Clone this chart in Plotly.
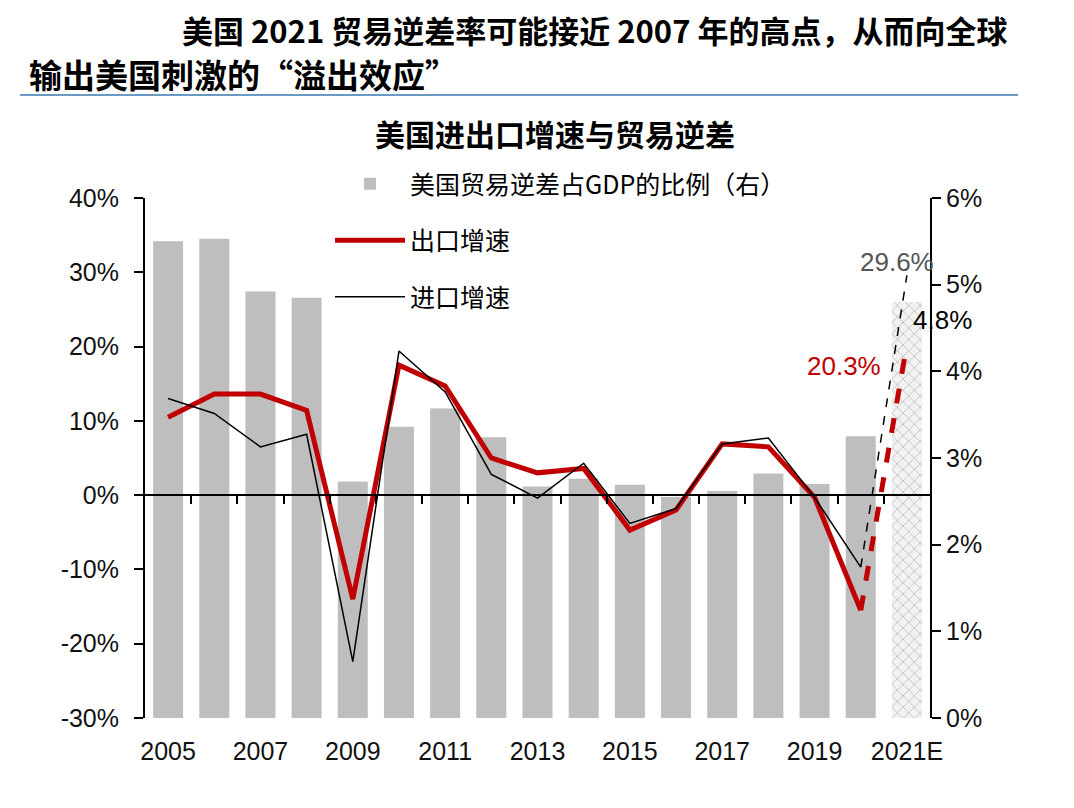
import plotly.graph_objects as go

# ---------------- data ----------------
years = list(range(2005, 2022))
year_labels = ["2005", "2007", "2009", "2011", "2013", "2015", "2017", "2019", "2021E"]
year_label_pos = [2005, 2007, 2009, 2011, 2013, 2015, 2017, 2019, 2021]
deficit_gdp = [5.50, 5.53, 4.92, 4.85, 2.73, 3.36, 3.57, 3.24, 2.67, 2.76,
               2.69, 2.55, 2.62, 2.82, 2.70, 3.25, 4.8]
export_growth = [10.5, 13.6, 13.6, 11.4, -14.0, 17.5, 14.7, 5.0, 3.0, 3.6,
                 -4.7, -2.0, 6.9, 6.5, -0.3, -15.5, 20.3]
import_growth = [13.0, 11.0, 6.5, 8.2, -22.4, 19.4, 13.9, 2.8, -0.4, 4.3,
                 -3.8, -1.8, 6.9, 7.7, -0.3, -9.7, 29.6]
left_ticks = [40, 30, 20, 10, 0, -10, -20, -30]
right_ticks = [0, 1, 2, 3, 4, 5, 6]

# ---------------- layout geometry helpers ----------------
OFF = 8  # browser body margin
W, H = 1074 - 2 * OFF, 808 - 2 * OFF
# plot area in reference-pixel coordinates
RL, RR, RT, RB = 145, 930, 198, 718
L, R, T, B = RL - OFF, RR - OFF, RT - OFF, RB - OFF


def px(x):
    return (x - RL) / (RR - RL)


def py(y):
    return (RB - y) / (RB - RT)


RED = "#C00000"
GRAY = "#BEBEBE"
FONT = "Liberation Sans, Arial, sans-serif"
CJK = "Noto Sans CJK SC, sans-serif"

fig = go.Figure()

# bars (right axis, main y)
fig.add_trace(go.Bar(
    x=years[:-1], y=deficit_gdp[:-1], yaxis="y", xaxis="x",
    marker=dict(color=GRAY, line=dict(width=0)), width=0.65,
    name="美国贸易逆差占GDP的比例（右）", legendgroup="a",
))
fig.add_trace(go.Bar(
    x=years[-1:], y=deficit_gdp[-1:], yaxis="y", xaxis="x",
    marker=dict(color="#EEEEEE", line=dict(width=0),
                pattern=dict(shape="x", fgcolor="#8C8C8C", bgcolor="#F2F2F2",
                             size=8, solidity=0.2)),
    width=0.65, showlegend=False, hoverinfo="skip",
))

# lines (left axis, y2)
fig.add_trace(go.Scatter(
    x=years[:-1], y=export_growth[:-1], yaxis="y2", xaxis="x",
    mode="lines", line=dict(color=RED, width=5),
    name="出口增速", legendgroup="b",
))
fig.add_trace(go.Scatter(
    x=years[:-1], y=import_growth[:-1], yaxis="y2", xaxis="x",
    mode="lines", line=dict(color="black", width=1.5),
    name="进口增速", legendgroup="c",
))
fig.add_trace(go.Scatter(
    x=years[-2:], y=import_growth[-2:], yaxis="y2", xaxis="x",
    mode="lines", line=dict(color="black", width=1.5, dash="dash"),
    showlegend=False,
))
fig.add_trace(go.Scatter(
    x=years[-2:], y=export_growth[-2:], yaxis="y2", xaxis="x",
    mode="lines", line=dict(color=RED, width=5, dash="dash"),
    showlegend=False,
))
# invisible helper trace so the zero-line axis (x2) is rendered
fig.add_trace(go.Scatter(
    x=[years[0]], y=[0], xaxis="x2", yaxis="y2", mode="markers",
    marker=dict(opacity=0), showlegend=False, hoverinfo="skip",
))

annotations = [
    dict(text="<b>美国 2021 贸易逆差率可能接近 2007 年的高点，从而向全球</b>",
         x=px(181), y=py(29), xref="paper", yref="paper", xanchor="left", yanchor="middle",
         borderpad=0, showarrow=False, font=dict(family=CJK, size=31, color="black")),
    dict(text="<b>输出美国刺激的“溢出效应”</b>",
         x=px(28), y=py(74), xref="paper", yref="paper", xanchor="left", yanchor="middle",
         borderpad=0, showarrow=False, font=dict(family=CJK, size=33, color="black")),
    dict(text="<b>美国进出口增速与贸易逆差</b>",
         x=px(555), y=py(133), xref="paper", yref="paper", xanchor="center", yanchor="middle",
         showarrow=False, font=dict(family=CJK, size=30, color="black")),
    dict(text="29.6%", x=2021, y=import_growth[-1], xref="x", yref="y2",
         xanchor="center", yanchor="bottom", yshift=-4, xshift=-10,
         showarrow=False, font=dict(family=FONT, size=26, color="#555555")),
    dict(text="4.8%", x=2021, y=deficit_gdp[-1], xref="x", yref="y",
         xanchor="left", yanchor="middle", xshift=4, yshift=-18,
         showarrow=False, font=dict(family=FONT, size=26, color="black")),
    dict(text="20.3%", x=2021, y=export_growth[-1], xref="x", yref="y2",
         xanchor="right", yanchor="middle", xshift=-24, yshift=-22,
         showarrow=False, font=dict(family=FONT, size=26, color=RED)),
]

shapes = [
    dict(type="line", xref="paper", yref="paper", x0=px(20), x1=px(1018),
         y0=py(95), y1=py(95), line=dict(color="#6A9AC4", width=2)),
]

fig.update_layout(
    width=W, height=H,
    margin=dict(l=L, r=W - R, t=T, b=H - B, autoexpand=False),
    paper_bgcolor="white", plot_bgcolor="white",
    barmode="overlay",
    showlegend=True,
    legend=dict(x=px(330), y=py(161), xanchor="left", yanchor="top",
                font=dict(family=CJK, size=25, color="black"),
                bgcolor="rgba(0,0,0,0)", itemwidth=70, tracegroupgap=21,
                traceorder="grouped"),
    xaxis=dict(range=[2004.5, 2021.5], tickvals=year_label_pos, ticktext=year_labels,
               ticks="outside", ticklen=11, tickcolor="rgba(0,0,0,0)",
               showline=False, showgrid=False, zeroline=False,
               tickfont=dict(family=FONT, size=25, color="#111111")),
    xaxis2=dict(range=[2004.5, 2021.5], overlaying="x", anchor="free",
                position=3 / 7, side="bottom",
                tickvals=[y + 0.5 for y in years[:-1]], showticklabels=False,
                ticks="outside", ticklen=8, tickwidth=2, tickcolor="black",
                showline=True, linecolor="black", linewidth=2,
                showgrid=False, zeroline=False),
    yaxis=dict(range=[0, 6], side="right", tickvals=right_ticks,
               ticktext=[f"{v}%" for v in right_ticks],
               ticks="outside", ticklen=9, tickwidth=2, tickcolor="black",
               showline=True, linecolor="black", linewidth=2,
               showgrid=False, zeroline=False,
               tickfont=dict(family=FONT, size=25, color="#111111")),
    yaxis2=dict(range=[-30, 40], side="left", overlaying="y", anchor="x",
                tickvals=left_ticks, ticktext=[f"{v}%" for v in left_ticks],
                ticks="outside", ticklen=9, tickwidth=2, tickcolor="black",
                ticklabelstandoff=10,
                showline=True, linecolor="black", linewidth=2,
                showgrid=False, zeroline=False,
                tickfont=dict(family=FONT, size=25, color="#111111")),
    annotations=annotations,
    shapes=shapes,
)

fig.write_html("out.html")
